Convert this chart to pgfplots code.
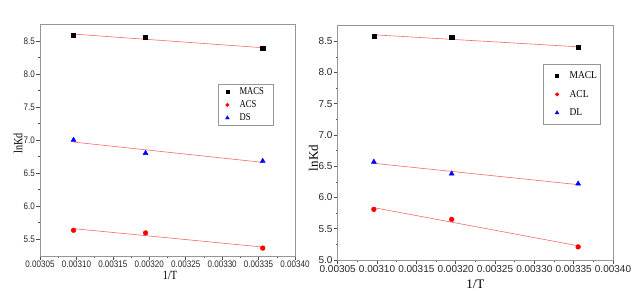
\documentclass[border=0pt]{standalone}
\usepackage{fontspec}
\setmainfont{Liberation Serif}
\setsansfont{Liberation Sans}
\newfontfamily\lserif[FakeStretch=0.82]{Liberation Serif}
\newfontfamily\lsans[FakeStretch=0.85]{Liberation Sans}
\newfontfamily\rserif[FakeStretch=0.9]{Liberation Serif}
\usepackage{pgfplots}
\pgfplotsset{compat=1.18}
\definecolor{fitred}{RGB}{245,105,105}
\definecolor{framegray}{RGB}{150,150,150}
\pgfplotsset{
 kd/.style={
  scale only axis,
  xmin=0.00305, xmax=0.0034,
  xtick={0.00305,0.0031,0.00315,0.0032,0.00325,0.0033,0.00335,0.0034},
  scaled x ticks=false, scaled y ticks=false,
  xticklabel style={/pgf/number format/.cd, fixed, fixed zerofill, precision=5},
  yticklabel style={/pgf/number format/.cd, fixed, fixed zerofill, precision=1},
  /pgf/number format/assume math mode=true,
  tick label style={text=black!85, inner sep=1pt},
  minor x tick num=1, minor y tick num=1,
  tick align=outside, xtick pos=left, ytick pos=left,
  major tick length=4pt, minor tick length=2pt,
  every tick/.style={black!70, line width=0.5pt},
  axis line style={framegray, line width=0.8pt},
  xlabel={1/T}, ylabel={lnKd},
  legend style={draw=framegray, fill=white,
    cells={anchor=west}, anchor=north west},
  fitline/.style={fitred, line width=0.6pt, no marks, forget plot},
  sq/.style={only marks, mark=square*, mark size=2.1pt, black, mark options={fill=black}},
  ci/.style={only marks, mark=*, mark size=2.4pt, red, mark options={fill=red}},
  tr/.style={only marks, mark=triangle*, mark size=2.9pt, blue, mark options={fill=blue}},
 }}
\begin{document}
\begin{tikzpicture}
\useasboundingbox (0,0) rectangle (641pt,291pt);
\begin{axis}[kd, at={(40pt,35pt)}, anchor=south west, width=255pt, height=232pt,
  ymin=5.24, ymax=8.76, ytick={5.5,6,6.5,7,7.5,8,8.5},
  tick label style={font=\lsans\fontsize{9.5}{10}\selectfont},
  label style={font=\lserif\fontsize{12.5}{14}\selectfont},
  xlabel style={at={(axis description cs:0.51,0)}, anchor=center, yshift=-19pt},
  ylabel style={at={(axis description cs:-0.086,0.485)}, anchor=center},
  legend style={at={(axis description cs:0.698,0.741)}, row sep=0.5pt, inner ysep=1.5pt,
    inner xsep=3pt, font=\lserif\fontsize{10.5}{12}\selectfont},
  legend image code/.code={\path (0pt,0pt) (16pt,0pt);
    \draw[#1, every mark/.append style={scale=0.75}] plot coordinates {(6pt,0pt)};}]
\addplot[fitline] coordinates {(0.0030960,8.6067) (0.0033557,8.4003)};
\addplot[fitline] coordinates {(0.0030960,6.9684) (0.0033557,6.6605)};
\addplot[fitline] coordinates {(0.0030960,5.6554) (0.0033557,5.3756)};
\addplot[sq] coordinates {(0.0030960,8.59) (0.0031949,8.555) (0.0033557,8.39)};
\addplot[ci] coordinates {(0.0030960,5.63) (0.0031949,5.59) (0.0033557,5.36)};
\addplot[tr] coordinates {(0.0030960,7.00) (0.0031949,6.80) (0.0033557,6.68)};
\legend{MACS\hspace*{4pt},ACS,DS}
\end{axis}
\begin{axis}[kd, at={(337.7pt,31pt)}, anchor=south west, width=275.3pt, height=235pt,
  ymin=5.0, ymax=8.76, ytick={5,5.5,6,6.5,7,7.5,8,8.5},
  tick label style={font=\sffamily\fontsize{10}{11}\selectfont},
  label style={font=\fontsize{13}{14}\selectfont},
  xlabel style={at={(axis description cs:0.5,0)}, anchor=center, yshift=-24pt},
  ylabel style={at={(axis description cs:-0.088,0.434)}, anchor=center},
  legend style={at={(axis description cs:0.746,0.834)}, row sep=6pt, inner ysep=5.5pt,
    inner xsep=1pt, font=\rserif\fontsize{10.5}{12}\selectfont},
  legend image code/.code={\path (0pt,0pt) (23pt,0pt);
    \draw[#1, every mark/.append style={scale=0.75}] plot coordinates {(12.6pt,0pt)};}]
\addplot[fitline] coordinates {(0.0030960,8.6034) (0.0033557,8.4113)};
\addplot[fitline] coordinates {(0.0030960,6.547) (0.0033557,6.2058)};
\addplot[fitline] coordinates {(0.0030960,5.8377) (0.0033557,5.227)};
\addplot[sq] coordinates {(0.0030960,8.585) (0.0031949,8.56) (0.0033557,8.40)};
\addplot[ci] coordinates {(0.0030960,5.81) (0.0031949,5.65) (0.0033557,5.21)};
\addplot[tr] coordinates {(0.0030960,6.57) (0.0031949,6.38) (0.0033557,6.22)};
\legend{MACL,ACL,DL}
\end{axis}
\end{tikzpicture}
\end{document}
